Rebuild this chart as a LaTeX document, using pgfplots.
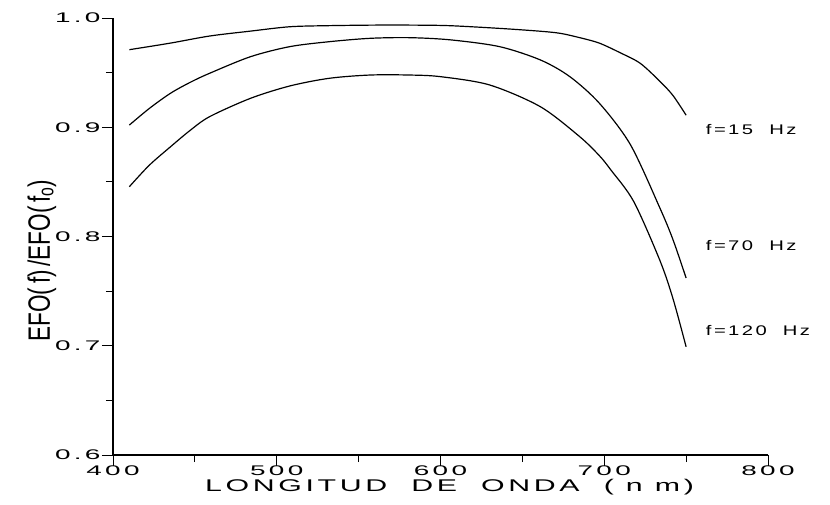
\documentclass[border=0pt]{standalone}
\usepackage{pgfplots}
\pgfplotsset{compat=1.18}
\usepackage{fontspec}
\setmainfont{Liberation Sans}
\newfontfamily\plotfont[LetterSpace=12]{Liberation Sans}
\newcommand{\W}[2][1.45]{\scalebox{#1}[1]{\plotfont #2}}
\newcommand{\T}[1]{\fontsize{14}{14}\selectfont\W{#1}}
\newcommand{\TK}[1]{\fontsize{14}{14}\selectfont\W[2.0]{#1}}
\begin{document}
\begin{tikzpicture}
\path[use as bounding box] (-113bp,-50bp) rectangle (717bp,455bp);
\begin{axis}[
  scale only axis, width=655bp, height=437bp,
  xmin=400, xmax=800, ymin=0.6, ymax=1.0,
  axis x line*=bottom, axis y line*=left,
  axis line style={-, line width=1.2pt},
  xtick={400,500,600,700,800}, minor xtick={450,550,650,750},
  ytick={0.6,0.7,0.8,0.9,1.0}, minor ytick={0.65,0.75,0.85,0.95},
  tick align=outside, major tick length=11bp, minor tick length=7bp,
  every tick/.style={black, line width=1pt},
  /pgf/number format/assume math mode=true,
  xticklabel={\TK{\pgfmathprintnumber[fixed,precision=0]{\tick}}},
  yticklabel={\TK{\pgfmathprintnumber[fixed,fixed zerofill,precision=1]{\tick}}},
  xticklabel style={yshift=4bp},
  yticklabel style={xshift=2bp},
  xlabel={\fontsize{17}{17}\selectfont\W[1.79]{LONGITUD\ \ DE\ \ ONDA\ \ (\ n\ m)}},
  xlabel style={yshift=3bp, xshift=9bp},
  ylabel={\fontsize{31}{31}\selectfont\scalebox{0.73}[1]{EFO(\,f)\,/EFO(\,f$_{\mathrm{o}}$)}},
  ylabel style={yshift=-8bp, xshift=-24bp},
  clip=false,
]
\addplot[black, line width=1.2pt, smooth] coordinates {
(410,0.971) (435,0.977) (459,0.9835) (484,0.988) (508,0.992) (532,0.993)
(560,0.9935) (581,0.9935) (605,0.993) (636,0.9905) (660,0.988) (673,0.986)
(685,0.982) (697,0.977) (710,0.968) (722,0.9585) (734,0.942) (742,0.929) (750,0.911)};
\addplot[black, line width=1.2pt, smooth] coordinates {
(410,0.902) (422,0.917) (435,0.931) (447,0.941) (459,0.9494) (484,0.9646)
(508,0.9738) (532,0.9783) (557,0.9814) (581,0.982) (606,0.980) (636,0.9738)
(661,0.9616) (679,0.9463) (697,0.922) (716,0.884) (734,0.826) (742,0.797) (750,0.762)};
\addplot[black, line width=1.2pt, smooth] coordinates {
(410,0.8456) (422,0.865) (435,0.882) (447,0.897) (459,0.9097) (484,0.9265)
(508,0.9378) (532,0.9448) (557,0.9478) (581,0.9478) (600,0.9463) (630,0.9387)
(661,0.9188) (685,0.8914) (697,0.874) (704,0.861) (718,0.832) (734,0.778) (742,0.743) (750,0.699)};
\node[anchor=west, inner sep=0pt] at (axis cs:762,0.898) {\T{f=15\ \ Hz}};
\node[anchor=west, inner sep=0pt] at (axis cs:762,0.792) {\T{f=70\ \ Hz}};
\node[anchor=west, inner sep=0pt] at (axis cs:762,0.714) {\T{f=120\ \ Hz}};
\end{axis}
\end{tikzpicture}
\end{document}
